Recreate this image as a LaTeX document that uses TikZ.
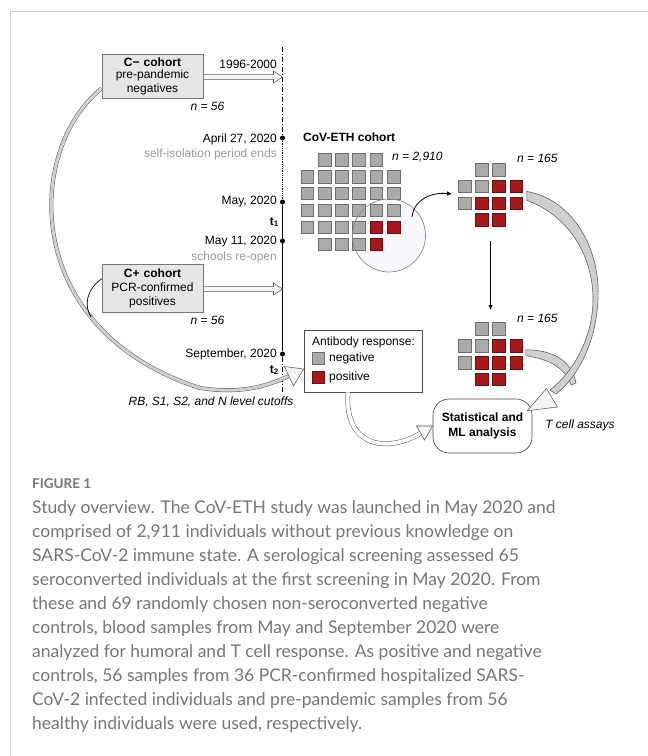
\documentclass[tikz,border=0pt]{standalone}
\usepackage{fontspec}
\setmainfont{Liberation Sans}
\newfontfamily\capfont{Lato}
\usetikzlibrary{calc,arrows.meta}
\definecolor{framegray}{HTML}{CCCCCC}
\definecolor{notegray}{HTML}{9A9A9A}
\definecolor{boxedge}{HTML}{777777}
\definecolor{boxfill}{HTML}{E6E6E6}
\definecolor{sqgfill}{HTML}{AAAAAA}
\definecolor{sqgedge}{HTML}{6E6E6E}
\definecolor{sqrfill}{HTML}{A8171A}
\definecolor{sqredge}{HTML}{6A0E10}
\definecolor{bandedge}{HTML}{5A5A5A}
\definecolor{bandfill}{HTML}{CFCFCF}
\definecolor{arrowfill}{HTML}{F4F4F4}
\definecolor{circedge}{HTML}{8A8A8A}
\definecolor{lensfill}{HTML}{F8F8FC}
\definecolor{captext}{HTML}{767676}
\newcommand{\harrow}[2]{%
  \filldraw[hollow] let \p1=(#1), \p2=(#2) in
    (\x1,\y1+2.4) -- (\x2-9,\y1+2.4) -- (\x2-9,\y1+6) -- (\x2,\y1)
    -- (\x2-9,\y1-6) -- (\x2-9,\y1-2.4) -- (\x1,\y1-2.4) -- cycle;}
\tikzset{
  lbl/.style={inner sep=0pt, font=\fontsize{12}{14}\selectfont},
  dateE/.style={lbl, anchor=east},
  greynote/.style={dateE, text=notegray},
  nlabel/.style={lbl, font=\fontsize{12}{14}\selectfont\itshape},
  cohort/.style={draw=boxedge, fill=boxfill, line width=.6pt, minimum width=101pt,
    text width=101pt, inner sep=0pt, align=center, font=\fontsize{12}{14}\selectfont},
  tdot/.style={circle, fill=black, inner sep=0pt, minimum size=5pt},
  sqG/.style={draw=sqgedge, fill=sqgfill, line width=.6pt, minimum size=12.6pt, inner sep=0pt},
  sqR/.style={draw=sqredge, fill=sqrfill, line width=.6pt, minimum size=12.6pt, inner sep=0pt},
  hollow/.style={draw=bandedge, fill=arrowfill, line width=.55pt},
  bandgray/.style={draw=bandedge, line width=.5pt, double=bandfill, double distance=3pt},
  bandwhite/.style={draw=bandedge, line width=.5pt, double=white, double distance=3.8pt},
  bandfilled/.style={draw=bandedge, fill=bandfill, line width=.55pt},
  dashdotline/.style={line width=.8pt, dash pattern=on 5pt off 2pt on 1pt off 2pt},
  dottedline/.style={line width=.7pt, dash pattern=on .8pt off 1pt},
  caption/.style={inner sep=0pt, anchor=base west, text=captext,
    font=\capfont\fontsize{17.5}{20}\selectfont},
}
\begin{document}
\begin{tikzpicture}[x=1pt,y=-1pt]
\useasboundingbox (0,0) rectangle (648,756);
% frame
\draw[framegray, line width=1pt] (10,756) -- (10,11) -- (648,11);

% timeline
\coordinate (tltop) at (282.5,47);
\node[tdot] (apr) at (282.5,138) {};
\node[tdot] (may) at (282.5,202) {};
\node[tdot] (may11) at (282.5,241) {};
\node[tdot] (sep) at (282.5,354) {};
\coordinate (tlbot) at (282.5,392);
\draw[dashdotline] (tltop) -- (apr);
\draw[dottedline] (apr) -- (may);
\draw[line width=.9pt] (may) -- (sep);
\draw[dashdotline] (sep) -- (tlbot);

% timeline labels
\node[dateE] (y9600) at (277,64) {1996-2000};
\node[dateE] (lapr) at (277,139) {April 27, 2020};
\node[greynote] (liso) at (277,154) {self-isolation period ends};
\node[dateE] (lmay) at (277,202) {May, 2020};
\node[dateE] (lt1) at (279,222) {\textbf{t}\textsubscript{\textbf{1}}};
\node[dateE] (lmay11) at (277,242) {May 11, 2020};
\node[greynote] (lschool) at (277,257) {schools re-open};
\node[dateE] (lsep) at (277,354) {September, 2020};
\node[dateE] (lt2) at (279,370) {\textbf{t}\textsubscript{\textbf{2}}};
\node[nlabel] (cutoffs) at (211,402) {RB, S1, S2, and N level cutoffs};

% cohort boxes
\node[cohort, minimum height=44pt] (cm) at (152.5,76)
  {\textbf{C− cohort}\\[-1.5pt] pre-pandemic\\[-0.5pt] negatives};
\node[nlabel] (ncm) at (207.5,106) {n = 56};
\node[cohort, minimum height=48pt] (cp) at (152.5,288)
  {\textbf{C+ cohort}\\ PCR-confirmed\\ positives};
\node[nlabel] (ncp) at (207.5,320) {n = 56};

\coordinate (cmend) at (282.5,77);
\coordinate (cpend) at (282.5,289);
\harrow{cm.east |- cmend}{cmend}
\harrow{cp.east |- cpend}{cpend}

% legend box
\node[draw=black!70, line width=.6pt, fill=white, minimum width=118pt, minimum height=62pt, inner sep=0pt] (legend) at (363,361) {};
\node[lbl, anchor=west] (legtitle) at (312,342) {Antibody response:};
\node[sqG, minimum size=12pt] (legG) at (318,358.5) {};
\node[sqR, minimum size=12pt] (legR) at (318,377.5) {};
\node[lbl, anchor=west] (legneg) at (329,358) {negative};
\node[lbl, anchor=west] (legpos) at (329,377) {positive};

% big left band from C- to legend
\coordinate (bandLend) at (289,376);
\draw[bandgray] ($(cm.south west)+(0,-10)$) .. controls (25,150) and (20,330) .. (200,388)
   .. controls (240,394) and (265,387) .. (bandLend);
\draw[line width=.7pt] ($(cp.north west)+(0,15)$) .. controls (86,290) and (84,306) .. (91,317);
\coordinate (tipL) at ($(legend.west)+(0,8)$);
\filldraw[hollow] (tipL) -- (284.5,366.5) -- (293.5,386) -- cycle;

% CoV-ETH cohort grid
\node[lbl, anchor=west, font=\fontsize{12}{14}\selectfont\bfseries] (covtitle) at (303,137) {CoV-ETH cohort};
\node[nlabel, anchor=west] (n2910) at (392,157) {n = 2,910};
\fill[lensfill] (389,235.5) circle[radius=36.5pt];
\foreach \r/\c/\s in {0/1/G,0/2/G,0/3/G,0/4/G,
  1/0/G,1/1/G,1/2/G,1/3/G,1/4/G,1/5/G,
  2/0/G,2/1/G,2/2/G,2/3/G,2/4/G,2/5/G,
  3/0/G,3/1/G,3/2/G,3/3/G,3/4/G,3/5/G,
  4/0/G,4/1/G,4/2/G,4/3/G,4/4/R,4/5/R,
  5/1/G,5/2/G,5/3/G,5/4/R}
  \node[sq\s] (A-\r-\c) at (307.3+17.25*\c, 159.6+16.9*\r) {};
\node[circle, draw=circedge, minimum size=73pt, inner sep=0pt, line width=.7pt] (lens) at (389,235.5) {};

% subset grids
\foreach \r/\c/\s in {0/1/G,0/2/G,1/0/G,1/1/G,1/2/R,1/3/R,2/0/G,2/1/R,2/2/R,2/3/R,3/1/R,3/2/R}{
  \node[sq\s] (B-\r-\c) at (464.6+17.2*\c, 169.6+16.8*\r) {};
  \node[sq\s] (C-\r-\c) at (464.6+17.2*\c, 329+16.8*\r) {};
}
\node[nlabel, anchor=west] (nB) at (517,158) {n = 165};
\node[nlabel, anchor=west] (nC) at (517,318) {n = 165};

\coordinate (lensout) at (412,217);
\coordinate (Bin) at (452,194);
\draw[line width=.8pt, -{Latex[length=5pt,width=4.5pt]}] (lensout) .. controls (414,199) and (432,192) .. (Bin);
\coordinate (Bout) at (490.6,241);
\coordinate (Cin) at (490.6,310);
\draw[line width=.8pt, -{Latex[length=5pt,width=4.5pt]}] (Bout) -- (Cin);

% statistical box
\node[draw=black!75, line width=.6pt, rounded corners=16pt, minimum width=99pt, minimum height=54pt,
  inner sep=0pt, align=center, font=\fontsize{12}{15}\selectfont\bfseries] (stat) at (482.5,426)
  {Statistical and\\ ML analysis};
\node[nlabel] (tcell) at (580,425) {T cell assays};

% legend -> stat band
\draw[bandwhite] ($(legend.south)+(-15,0)$) .. controls (344,450) and (390,452) .. (421,433);
\filldraw[hollow] (stat.west) -- (416.5,426) -- (424.5,440) -- cycle;

% right bands into stat
\filldraw[bandfilled] ($(C-1-3.east)+(3,4)$) .. controls (555,350) and (572,362) .. (576,383)
  -- (571,385) .. controls (566,369) and (550,359) .. ($(C-1-3.east)+(3,10)$) -- cycle;
\filldraw[bandfilled] ($(B-1-3.east)+(4,5)$) .. controls (575,200) and (601,252) .. (598,300)
  .. controls (596,340) and (580,375) .. (556,394)
  -- (550,390) .. controls (574,371) and (592,338) .. (593,302)
  .. controls (594,258) and (570,216) .. ($(B-1-3.east)+(4,14)$) -- cycle;
\coordinate (tipR) at ($(stat.north east)+(-5,12)$);
\filldraw[hollow] (tipR) -- (546.5,388.5) -- (557.5,407) -- cycle;

% caption
\node[anchor=base west, inner sep=0pt, text=captext, font=\capfont\bfseries\fontsize{13.5}{15}\selectfont] (figlabel) at (32,488) {FIGURE 1};
\foreach \t [count=\i from 0] in {
  {Study overview. The CoV-ETH study was launched in May 2020 and},
  {comprised of 2,911 individuals without previous knowledge on},
  {SARS-CoV-2 immune state. A serological screening assessed 65},
  {seroconverted individuals at the first screening in May 2020. From},
  {these and 69 randomly chosen non-seroconverted negative},
  {controls, blood samples from May and September 2020 were},
  {analyzed for humoral and T cell response. As positive and negative},
  {controls, 56 samples from 36 PCR-confirmed hospitalized SARS-},
  {CoV-2 infected individuals and pre-pandemic samples from 56},
  {healthy individuals were used, respectively.}}
  \node[caption] (cap\i) at (32,513+24*\i) {\t};
\end{tikzpicture}
\end{document}
